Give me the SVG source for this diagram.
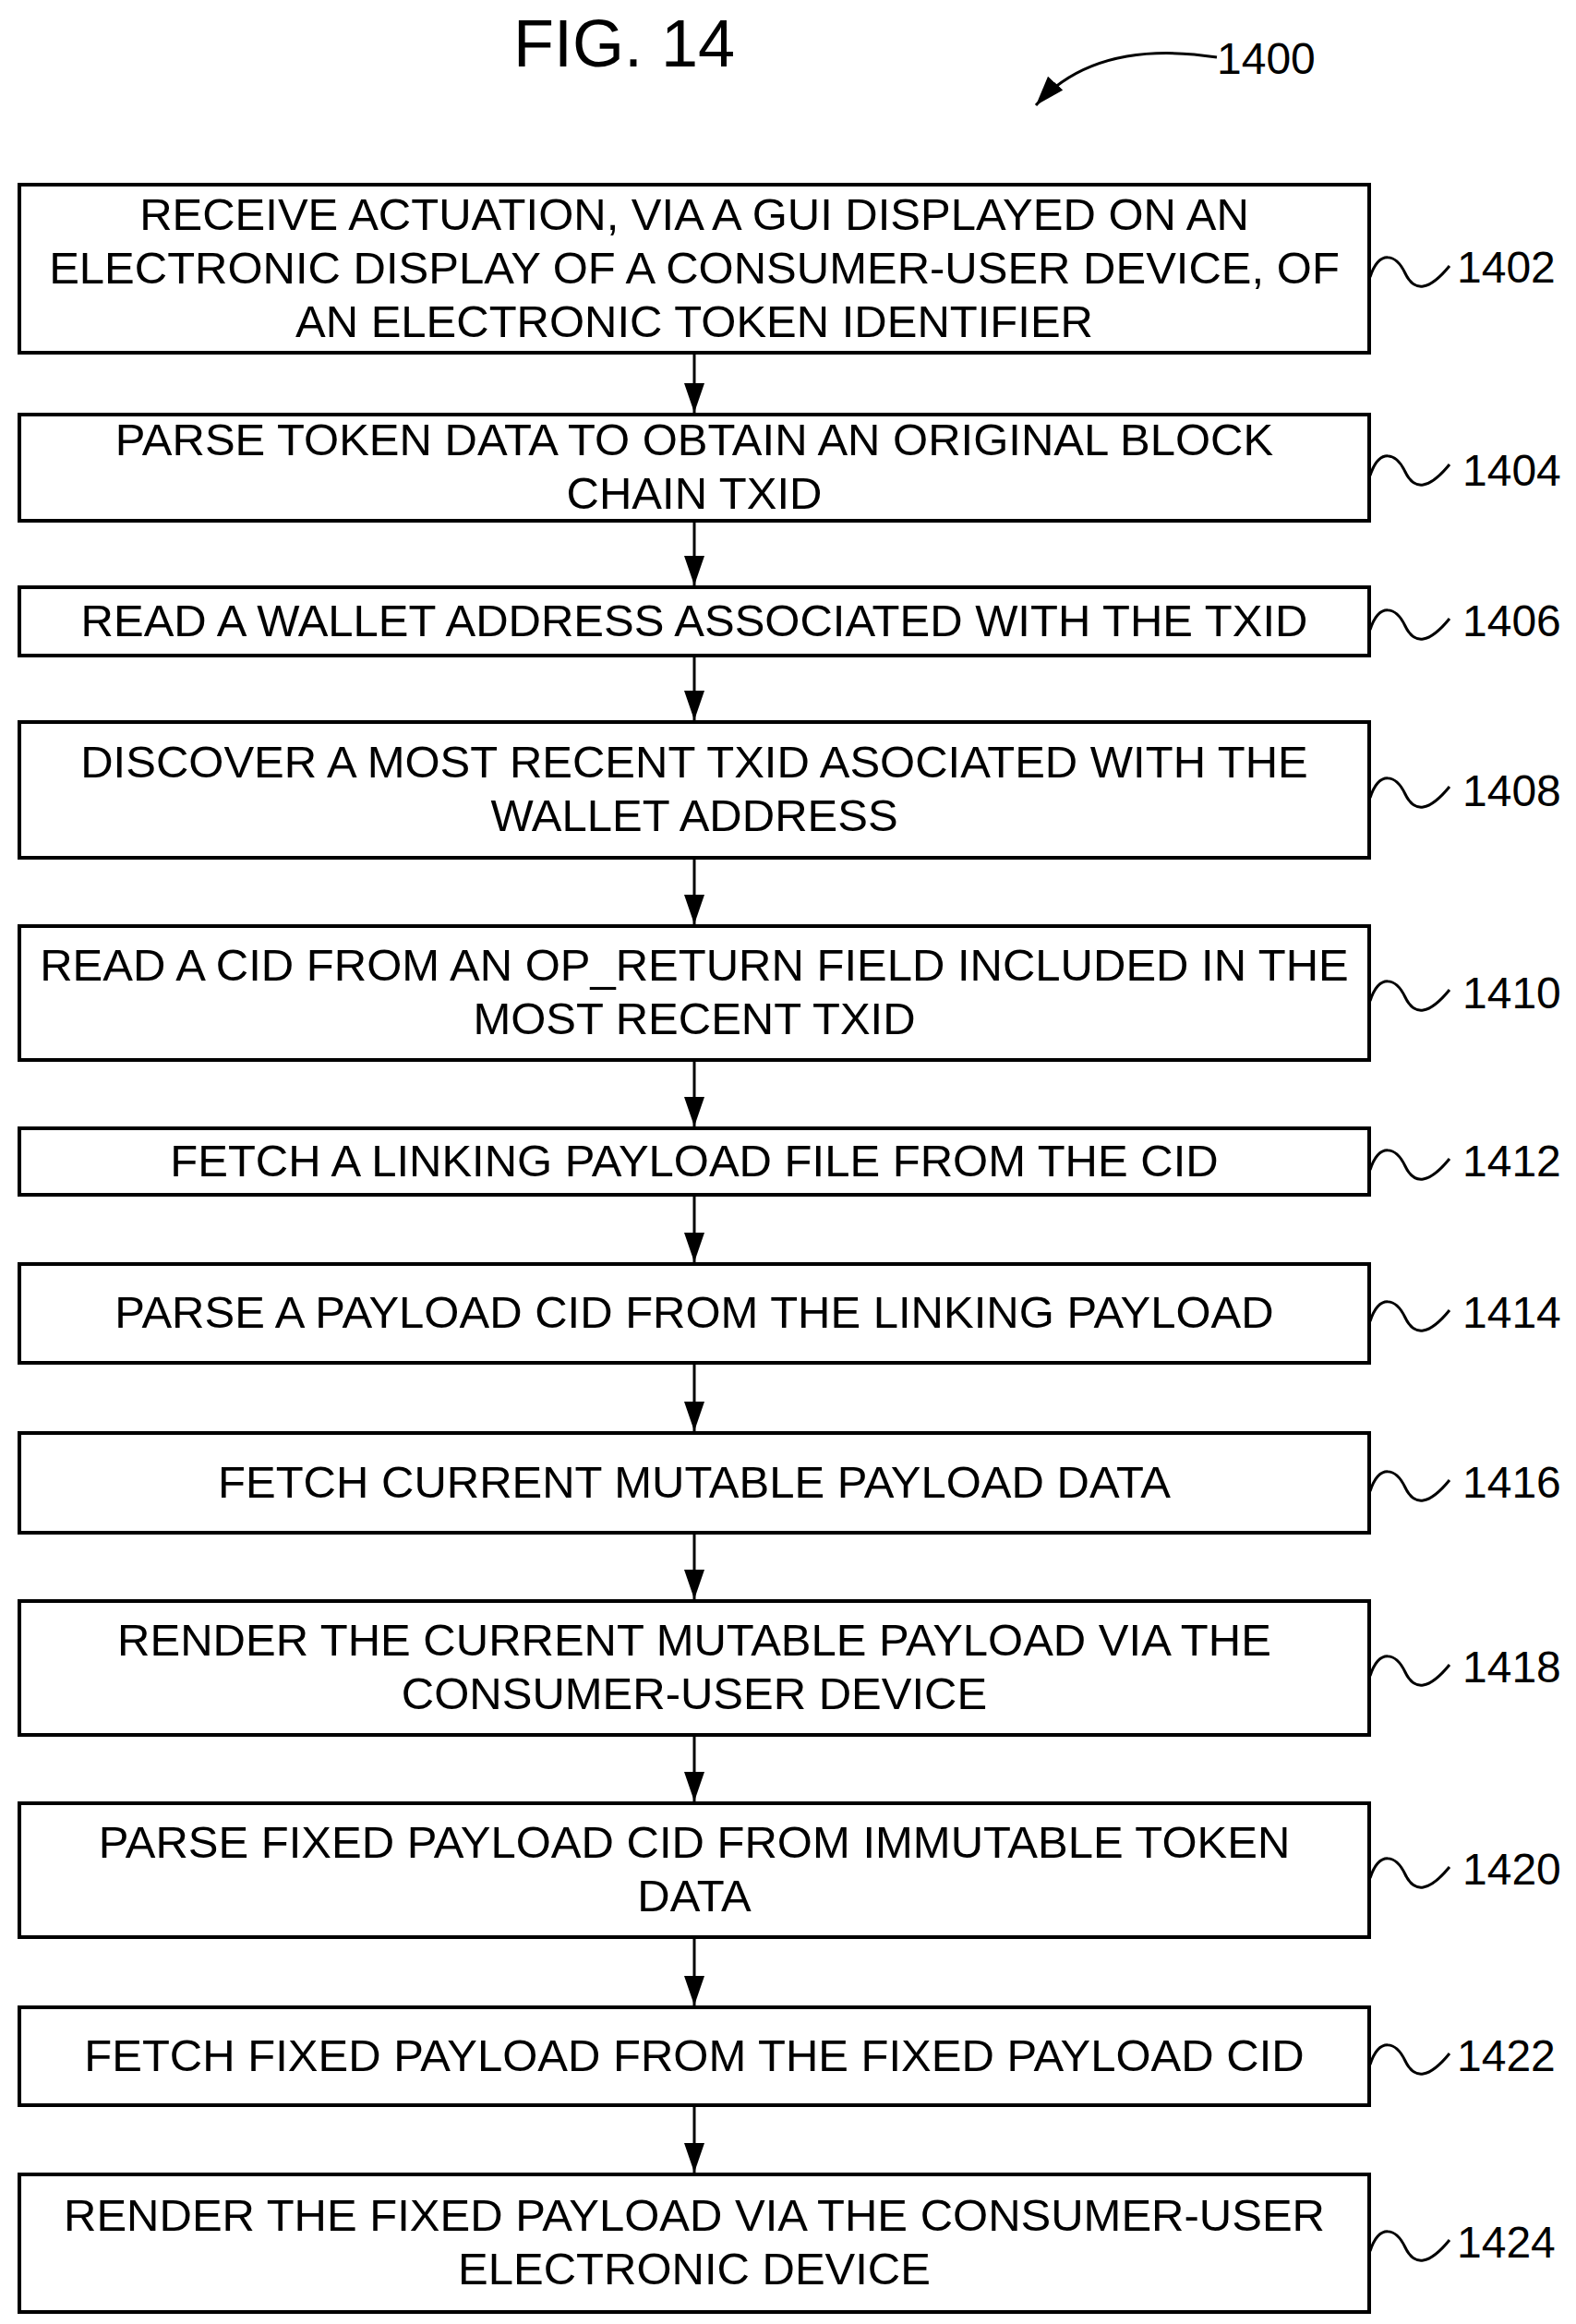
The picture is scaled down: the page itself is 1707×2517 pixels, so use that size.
<svg xmlns="http://www.w3.org/2000/svg" width="1707" height="2517" viewBox="0 0 1707 2517">
<style>
.b{fill:#fff;stroke:#000;stroke-width:4}
.t{font-family:"Liberation Sans",Arial,sans-serif;font-size:49px;text-anchor:middle;fill:#000}
.r{font-family:"Liberation Sans",Arial,sans-serif;font-size:48px;fill:#000}
.s{fill:none;stroke:#000;stroke-width:3}
.c{stroke:#000;stroke-width:3;fill:none}
</style>
<defs><marker id="a" markerWidth="32" markerHeight="22" refX="32" refY="11" orient="auto" markerUnits="userSpaceOnUse"><path d="M0,0 L32,11 L0,22 Z" fill="#000"/></marker></defs>
<text x="676" y="72" font-family="Liberation Sans,Arial,sans-serif" font-size="72" text-anchor="middle">FIG. 14</text>
<text class="r" x="1318" y="80">1400</text>
<path d="M1318,62 C1240,50 1170,60 1122,114" class="c" marker-end="url(#a)"/>
<g id="connectors">
<line class="c" x1="752" y1="382" x2="752" y2="447" marker-end="url(#a)"/>
<line class="c" x1="752" y1="564" x2="752" y2="634" marker-end="url(#a)"/>
<line class="c" x1="752" y1="710" x2="752" y2="780" marker-end="url(#a)"/>
<line class="c" x1="752" y1="929" x2="752" y2="1001" marker-end="url(#a)"/>
<line class="c" x1="752" y1="1148" x2="752" y2="1220" marker-end="url(#a)"/>
<line class="c" x1="752" y1="1294" x2="752" y2="1367" marker-end="url(#a)"/>
<line class="c" x1="752" y1="1476" x2="752" y2="1550" marker-end="url(#a)"/>
<line class="c" x1="752" y1="1660" x2="752" y2="1732" marker-end="url(#a)"/>
<line class="c" x1="752" y1="1879" x2="752" y2="1951" marker-end="url(#a)"/>
<line class="c" x1="752" y1="2098" x2="752" y2="2172" marker-end="url(#a)"/>
<line class="c" x1="752" y1="2280" x2="752" y2="2353" marker-end="url(#a)"/>
</g>
<g id="n1402"><rect class="b" x="21" y="200" width="1462" height="182"/><text class="t" x="752" y="249">RECEIVE ACTUATION, VIA A GUI DISPLAYED ON AN</text><text class="t" x="752" y="307">ELECTRONIC DISPLAY OF A CONSUMER-USER DEVICE, OF</text><text class="t" x="752" y="365">AN ELECTRONIC TOKEN IDENTIFIER</text><path class="s" d="M1484,300 C1494,270 1512,275 1522,296 S1548,315 1570,288"/><text class="r" x="1578" y="306">1402</text></g>
<g id="n1404"><rect class="b" x="21" y="449" width="1462" height="115"/><text class="t" x="752" y="493">PARSE TOKEN DATA TO OBTAIN AN ORIGINAL BLOCK</text><text class="t" x="752" y="551">CHAIN TXID</text><path class="s" d="M1484,515 C1494,485 1512,490 1522,511 S1548,530 1570,503"/><text class="r" x="1584" y="526">1404</text></g>
<g id="n1406"><rect class="b" x="21" y="636" width="1462" height="74"/><text class="t" x="752" y="689">READ A WALLET ADDRESS ASSOCIATED WITH THE TXID</text><path class="s" d="M1484,682 C1494,652 1512,657 1522,678 S1548,697 1570,670"/><text class="r" x="1584" y="689">1406</text></g>
<g id="n1408"><rect class="b" x="21" y="782" width="1462" height="147"/><text class="t" x="752" y="842">DISCOVER A MOST RECENT TXID ASOCIATED WITH THE</text><text class="t" x="752" y="900">WALLET ADDRESS</text><path class="s" d="M1484,864 C1494,834 1512,839 1522,860 S1548,879 1570,852"/><text class="r" x="1584" y="873">1408</text></g>
<g id="n1410"><rect class="b" x="21" y="1003" width="1462" height="145"/><text class="t" x="752" y="1062">READ A CID FROM AN OP_RETURN FIELD INCLUDED IN THE</text><text class="t" x="752" y="1120">MOST RECENT TXID</text><path class="s" d="M1484,1084 C1494,1054 1512,1059 1522,1080 S1548,1099 1570,1072"/><text class="r" x="1584" y="1092">1410</text></g>
<g id="n1412"><rect class="b" x="21" y="1222" width="1462" height="72"/><text class="t" x="752" y="1274">FETCH A LINKING PAYLOAD FILE FROM THE CID</text><path class="s" d="M1484,1267 C1494,1237 1512,1242 1522,1263 S1548,1282 1570,1255"/><text class="r" x="1584" y="1274">1412</text></g>
<g id="n1414"><rect class="b" x="21" y="1369" width="1462" height="107"/><text class="t" x="752" y="1438">PARSE A PAYLOAD CID FROM THE LINKING PAYLOAD</text><path class="s" d="M1484,1431 C1494,1401 1512,1406 1522,1427 S1548,1446 1570,1419"/><text class="r" x="1584" y="1438">1414</text></g>
<g id="n1416"><rect class="b" x="21" y="1552" width="1462" height="108"/><text class="t" x="752" y="1622">FETCH CURRENT MUTABLE PAYLOAD DATA</text><path class="s" d="M1484,1615 C1494,1585 1512,1590 1522,1611 S1548,1630 1570,1603"/><text class="r" x="1584" y="1622">1416</text></g>
<g id="n1418"><rect class="b" x="21" y="1734" width="1462" height="145"/><text class="t" x="752" y="1793">RENDER THE CURRENT MUTABLE PAYLOAD VIA THE</text><text class="t" x="752" y="1851">CONSUMER-USER DEVICE</text><path class="s" d="M1484,1815 C1494,1785 1512,1790 1522,1811 S1548,1830 1570,1803"/><text class="r" x="1584" y="1822">1418</text></g>
<g id="n1420"><rect class="b" x="21" y="1953" width="1462" height="145"/><text class="t" x="752" y="2012">PARSE FIXED PAYLOAD CID FROM IMMUTABLE TOKEN</text><text class="t" x="752" y="2070">DATA</text><path class="s" d="M1484,2034 C1494,2004 1512,2009 1522,2030 S1548,2049 1570,2022"/><text class="r" x="1584" y="2041">1420</text></g>
<g id="n1422"><rect class="b" x="21" y="2174" width="1462" height="106"/><text class="t" x="752" y="2243">FETCH FIXED PAYLOAD FROM THE FIXED PAYLOAD CID</text><path class="s" d="M1484,2236 C1494,2206 1512,2211 1522,2232 S1548,2251 1570,2224"/><text class="r" x="1578" y="2243">1422</text></g>
<g id="n1424"><rect class="b" x="21" y="2355" width="1462" height="149"/><text class="t" x="752" y="2416">RENDER THE FIXED PAYLOAD VIA THE CONSUMER-USER</text><text class="t" x="752" y="2474">ELECTRONIC DEVICE</text><path class="s" d="M1484,2438 C1494,2408 1512,2413 1522,2434 S1548,2453 1570,2426"/><text class="r" x="1578" y="2445">1424</text></g>
</svg>
